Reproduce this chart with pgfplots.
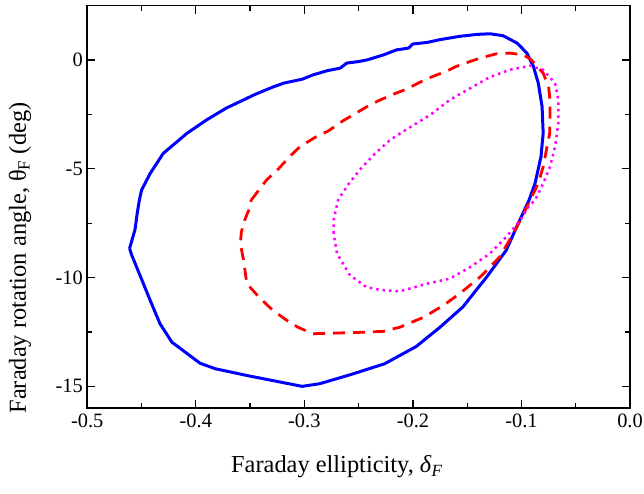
\documentclass[border=0pt]{standalone}
\usepackage{fontspec}
\setmainfont{Liberation Serif}
\usepackage{pgfplots}
\pgfplotsset{compat=1.18}

\definecolor{cblue}{RGB}{0,0,255}
\definecolor{cred}{RGB}{255,0,0}
\definecolor{cmag}{RGB}{255,0,255}

\begin{document}
\begin{tikzpicture}
\begin{axis}[
    scale only axis,
    width=543bp, height=402.6bp,
    xmin=-0.5, xmax=0, ymin=-16, ymax=2.5,
    xtick={-0.5,-0.4,-0.3,-0.2,-0.1,0},
    xticklabels={-0.5,-0.4,-0.3,-0.2,-0.1,0.0},
    ytick={-15,-10,-5,0},
    yticklabels={-15,-10,-5,0},
    minor x tick num=1, minor y tick num=1,
    tick align=inside,
    major tick length=8bp, minor tick length=5bp,
    every tick/.style={black, line width=1.3bp},
    axis line style={line width=1.6bp},
    tick label style={font=\fontsize{20.5}{24}\selectfont},
    xticklabel style={yshift=-2bp},
    yticklabel style={xshift=-1bp},
    xlabel={Faraday ellipticity, \textit{δ}\textsubscript{\textit{F}}},
    ylabel={Faraday rotation angle, θ\textsubscript{F} (deg)},
    label style={font=\fontsize{24.5}{28}\selectfont},
    xlabel style={at={(axis description cs:0.46,-0.161)}, anchor=base},
    ylabel style={at={(axis description cs:-0.124,0.373)}, anchor=center},
    clip=true,
]
% blue solid
\addplot[cblue, line width=3bp, line join=round] coordinates {
 (-0.461,-8.66) (-0.456,-7.79) (-0.454,-7.05) (-0.452,-6.44) (-0.450,-5.98)
 (-0.442,-5.21) (-0.430,-4.29) (-0.408,-3.36) (-0.390,-2.75) (-0.372,-2.21)
 (-0.345,-1.57) (-0.329,-1.24) (-0.319,-1.06) (-0.302,-0.88) (-0.292,-0.68)
 (-0.279,-0.49) (-0.267,-0.37) (-0.261,-0.14) (-0.249,-0.06) (-0.242,0.01)
 (-0.227,0.24) (-0.215,0.47) (-0.204,0.55) (-0.200,0.74) (-0.187,0.81)
 (-0.175,0.94) (-0.157,1.09) (-0.141,1.18) (-0.129,1.21) (-0.117,1.12)
 (-0.104,0.78) (-0.095,0.32) (-0.089,-0.29) (-0.0845,-1.06) (-0.081,-2.14)
 (-0.080,-3.36) (-0.082,-4.44) (-0.0875,-5.67) (-0.093,-6.44) (-0.103,-7.51)
 (-0.114,-8.74) (-0.132,-9.97) (-0.154,-11.35) (-0.175,-12.28) (-0.197,-13.17)
 (-0.226,-13.96) (-0.258,-14.47) (-0.286,-14.88) (-0.302,-15.00) (-0.353,-14.50)
 (-0.382,-14.19) (-0.396,-13.94) (-0.422,-12.97) (-0.433,-12.12) (-0.442,-11.05)
 (-0.459,-8.97) (-0.461,-8.66)
};
% red dashed
\addplot[cred, line width=2.8bp, dash pattern=on 12bp off 8bp] coordinates {
 (-0.349,-6.44) (-0.335,-5.52) (-0.325,-5.06) (-0.312,-4.36) (-0.304,-3.98)
 (-0.289,-3.52) (-0.278,-3.26) (-0.264,-2.78) (-0.255,-2.52) (-0.241,-2.10)
 (-0.230,-1.83) (-0.217,-1.55) (-0.206,-1.34) (-0.194,-1.03) (-0.183,-0.78)
 (-0.169,-0.51) (-0.160,-0.29) (-0.147,-0.06) (-0.138,0.09) (-0.123,0.29)
 (-0.111,0.32) (-0.098,0.24) (-0.091,0.01) (-0.080,-0.60) (-0.075,-1.22)
 (-0.0737,-1.83) (-0.0737,-2.75) (-0.074,-3.36) (-0.077,-4.13) (-0.080,-4.90)
 (-0.0845,-5.67) (-0.092,-6.44) (-0.101,-7.36) (-0.111,-8.28) (-0.120,-9.05)
 (-0.138,-9.97) (-0.157,-10.74) (-0.172,-11.28) (-0.190,-11.82) (-0.212,-12.28)
 (-0.227,-12.47) (-0.250,-12.52) (-0.292,-12.58) (-0.306,-12.28) (-0.316,-11.97)
 (-0.329,-11.51) (-0.341,-10.94) (-0.353,-10.28) (-0.356,-9.20) (-0.359,-8.43)
 (-0.358,-7.90) (-0.355,-7.36) (-0.350,-6.75) (-0.349,-6.44)
};
% magenta dotted
\addplot[cmag, line width=2.5bp, dash pattern=on 2.5bp off 4bp] coordinates {
 (-0.273,-7.97) (-0.273,-7.36) (-0.269,-6.44) (-0.260,-5.75) (-0.249,-5.05)
 (-0.236,-4.35) (-0.221,-3.67) (-0.204,-3.13) (-0.184,-2.52) (-0.166,-1.83)
 (-0.147,-1.29) (-0.129,-0.78) (-0.111,-0.45) (-0.092,-0.26) (-0.080,-0.45)
 (-0.069,-1.06) (-0.066,-1.83) (-0.066,-2.90) (-0.069,-3.98) (-0.0737,-4.90)
 (-0.080,-5.67) (-0.0875,-6.44) (-0.093,-6.70) (-0.101,-7.36) (-0.114,-8.13)
 (-0.129,-8.89) (-0.147,-9.51) (-0.166,-10.05) (-0.187,-10.28) (-0.212,-10.63)
 (-0.230,-10.57) (-0.243,-10.43) (-0.258,-9.89) (-0.270,-8.89) (-0.273,-7.97)
};
\end{axis}
\pgfresetboundingbox
\useasboundingbox ([shift={(-87.3bp,-85.7bp)}]current axis.south west)
    rectangle ([shift={(14bp,5.7bp)}]current axis.north east);
\end{tikzpicture}
\end{document}
